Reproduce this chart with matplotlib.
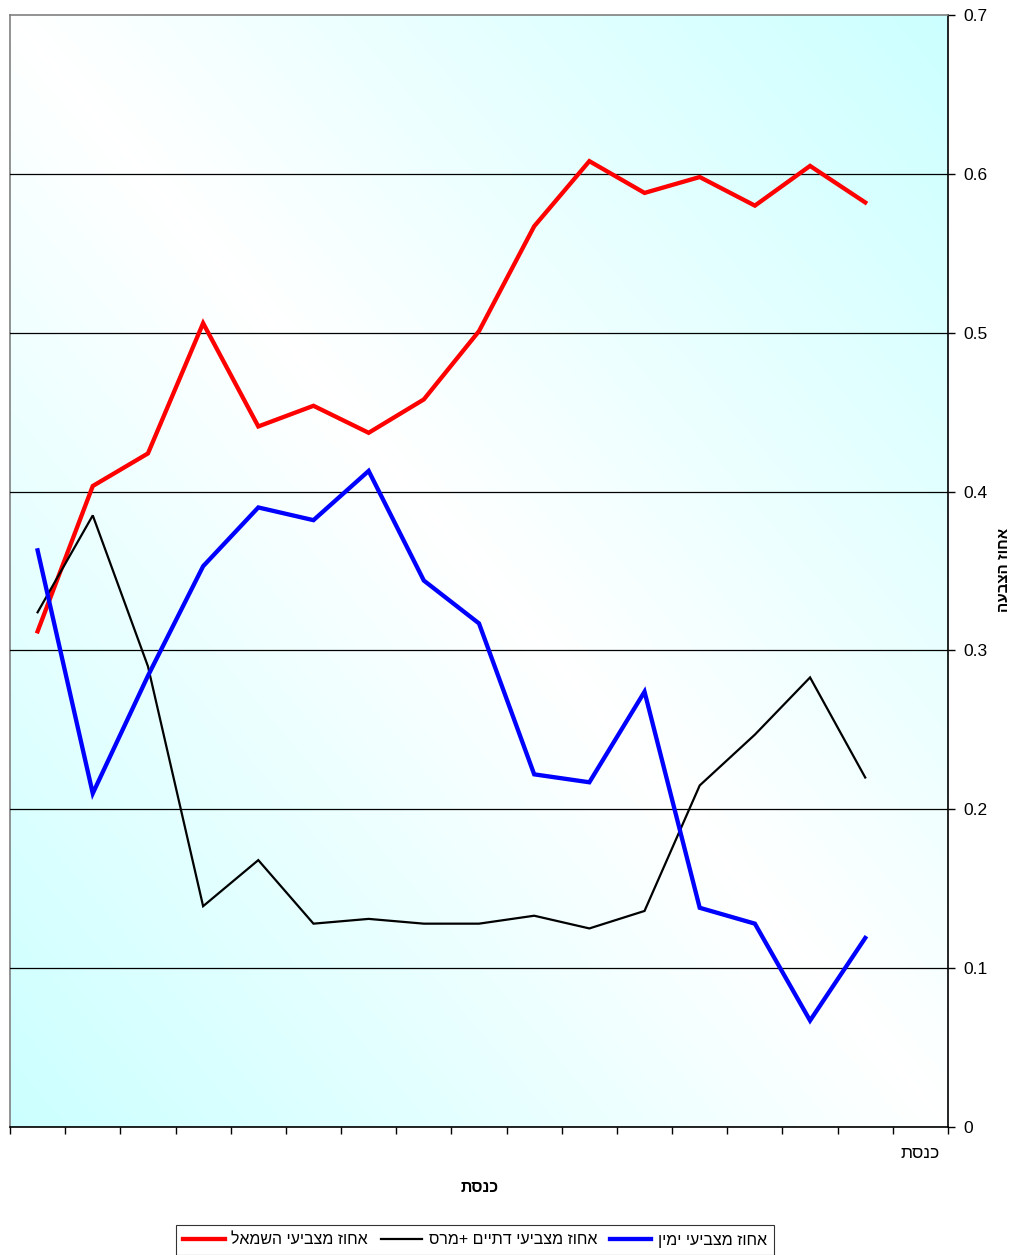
import matplotlib
matplotlib.use('Agg')
import matplotlib.pyplot as plt
import numpy as np
from matplotlib.colors import LinearSegmentedColormap

plt.rcParams['font.family'] = ['Liberation Sans', 'DejaVu Sans']

# data (16 knessets, 17th slot empty)
categories = [''] * 16 + ['כנסת']
left_share = [0.312, 0.4035, 0.424, 0.506, 0.441, 0.454, 0.437, 0.458,
              0.501, 0.567, 0.608, 0.588, 0.598, 0.580, 0.605, 0.582]
religious_share = [0.324, 0.385, 0.290, 0.139, 0.168, 0.128, 0.131, 0.128,
                   0.128, 0.133, 0.125, 0.136, 0.215, 0.247, 0.283, 0.220]
right_share = [0.363, 0.210, 0.284, 0.353, 0.390, 0.382, 0.413, 0.344,
               0.317, 0.222, 0.217, 0.274, 0.138, 0.128, 0.067, 0.119]
labels = ['אחוז מצביעי השמאל', 'אחוז מצביעי דתיים +מרס', 'אחוז מצביעי ימין']
x_title = 'כנסת'
y_title = 'אחוז הצבעה'


def vis(s):
    # matplotlib has no bidi, so hand it the visual order
    return s[::-1]


fig = plt.figure(figsize=(10.17, 12.55), dpi=100)
ax = fig.add_axes([10 / 1017, 1 - 1127 / 1255, 938 / 1017, 1112 / 1255])

n = len(categories)
ax.set_xlim(0, n)
ax.set_ylim(0, 0.7)

# diagonal gradient background: cyan at top-right/bottom-left, white on the other diagonal
u = np.linspace(0, 1, 300)
v = np.linspace(0, 1, 300)
uu, vv = np.meshgrid(u, v)
grad = np.abs(uu - vv)
cmap = LinearSegmentedColormap.from_list('bg', ['#ffffff', '#ccffff'])
ax.imshow(grad, cmap=cmap, extent=[0, n, 0, 0.7], origin='upper', aspect='auto',
          zorder=0, interpolation='bilinear')

ax.set_yticks(np.arange(0, 0.71, 0.1))
ax.yaxis.grid(True, color='black', lw=0.9, zorder=1)
ax.set_axisbelow(False)
# keep the grey top border free of the 0.7 grid line
ax.yaxis.get_gridlines()[-1].set_visible(False)

xs = np.arange(len(left_share)) + 0.5
ax.plot(xs, left_share, color='#ff0000', lw=3.1, zorder=3, label=vis(labels[0]),
        solid_joinstyle='miter')
ax.plot(xs, religious_share, color='black', lw=1.6, zorder=3, label=vis(labels[1]),
        solid_joinstyle='miter')
ax.plot(xs, right_share, color='#0000ff', lw=3.1, zorder=3, label=vis(labels[2]),
        solid_joinstyle='miter')

ax.yaxis.tick_right()
ax.yaxis.set_label_position('right')
ax.set_yticklabels(['0'] + ['%.1f' % t for t in np.arange(0.1, 0.71, 0.1)], fontsize=12.5)
ax.tick_params(axis='y', direction='out', length=5, width=1, pad=6, right=True, left=False)

ax.set_xticks(np.arange(0, n + 1))
ax.set_xticklabels([])
ax.set_xticks(np.arange(n) + 0.5, minor=True)
ax.set_xticklabels([vis(c) for c in categories], minor=True, fontsize=12.5)
ax.tick_params(axis='x', which='major', direction='out', length=5, width=1)
ax.tick_params(axis='x', which='minor', length=0, pad=14)

for side in ['left', 'top']:
    ax.spines[side].set_color('#808080')
    ax.spines[side].set_linewidth(1.2)
for side in ['right', 'bottom']:
    ax.spines[side].set_color('black')
    ax.spines[side].set_linewidth(1.2)

fig.text(480 / 1017, 1 - 1187 / 1255, vis(x_title), ha='center', va='center',
         fontsize=11.5, fontweight='bold')
fig.text(1004 / 1017, 1 - 570 / 1255, vis(y_title), ha='center', va='center',
         rotation=90, fontsize=11, fontweight='bold')

leg = fig.legend(loc='center', bbox_to_anchor=(475 / 1017, 1 - 1240 / 1255), ncol=3,
                 fontsize=11.5, frameon=True, fancybox=False, edgecolor='black',
                 handlelength=2.6, handletextpad=0.4, columnspacing=0.8,
                 borderpad=0.45)
leg.get_frame().set_linewidth(0.8)

fig.savefig('out.png', dpi=100)
